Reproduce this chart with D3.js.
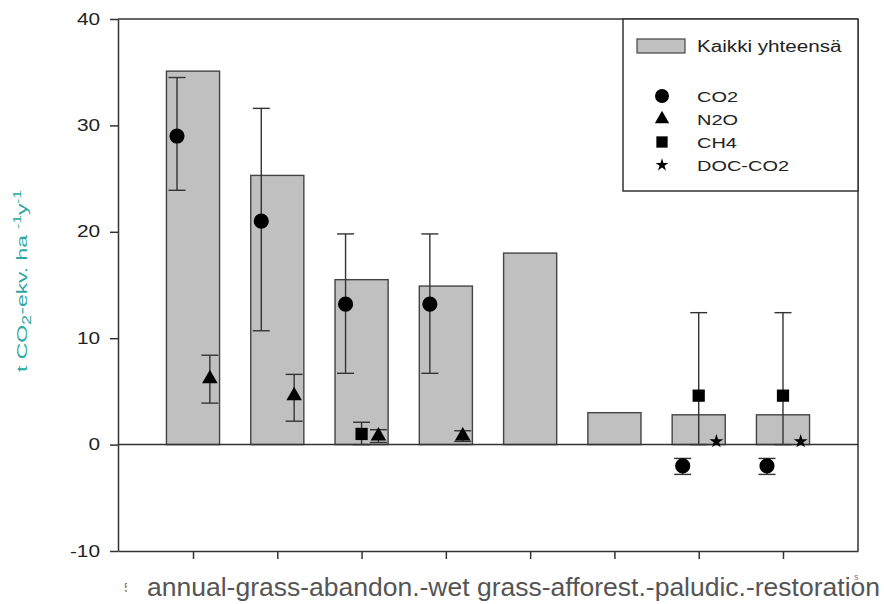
<!DOCTYPE html>
<html>
<head>
<meta charset="utf-8">
<script src="https://cdn.jsdelivr.net/npm/d3@7"></script>
<style>
  body { margin: 0; background: #fff; }
  svg { display: block; }
  text { font-family: "Liberation Sans", Arial, sans-serif; }
</style>
</head>
<body>
<svg id="chart"></svg>
<script>
// values
const categories = ['I', 'II', 'III', 'IV', 'V', 'VI', 'VII', 'VIII'];
const totals  = [35.1, 25.3, 15.5, 14.9, 18.0, 3.0, 2.8, 2.8];
const co2     = [29.0, 21.0, 13.2, 13.2, null, null, -2.0, -2.0];
const co2Low  = [23.9, 10.7, 6.7, 6.7, null, null, -2.8, -2.8];
const co2High = [34.5, 31.6, 19.8, 19.8, null, null, -1.3, -1.3];
const n2o     = [6.2, 4.6, 0.8, 0.8, null, null, null, null];
const n2oLow  = [3.9, 2.2, 0.2, 0.3, null, null, null, null];
const n2oHigh = [8.4, 6.6, 1.4, 1.3, null, null, null, null];
const ch4     = [null, null, 1.0, null, null, null, 4.6, 4.6];
const ch4Low  = [null, null, 0.0, null, null, null, 0.0, 0.0];
const ch4High = [null, null, 2.1, null, null, null, 12.4, 12.4];
const docCo2  = [null, null, null, null, null, null, 0.3, 0.3];
const yTicks = [-10, 0, 10, 20, 30, 40];
const totalLabel = 'Kaikki yhteensä';
const xTitle = 'annual-grass-abandon.-wet grass-afforest.-paludic.-restoration';

function makeChart() {
    let w = 884, h = 604;
    let svg = d3.select('#chart').attr('width', w).attr('height', h);

    let x = d3.scaleLinear().domain([-0.89, categories.length - 1 + 0.89]).range([118, 858]);
    let y = d3.scaleLinear().domain([-10, 40]).range([551, 19]);
    let ink = '#333';

    // widen glyphs a bit, the source picture is stretched sideways
    function stretch(sel, k) {
        sel.each(function() {
            let len = this.getComputedTextLength();
            d3.select(this).attr('textLength', len * k).attr('lengthAdjust', 'spacingAndGlyphs');
        });
    }

    // bars
    let half = 0.315;
    svg.selectAll('rect.bar')
        .data(totals)
        .enter()
        .append('rect')
        .attr('class', 'bar')
        .attr('x', (d, i) => x(i - half))
        .attr('y', (d) => y(d))
        .attr('width', (d, i) => x(i + half) - x(i - half))
        .attr('height', (d) => y(0) - y(d))
        .attr('fill', '#c0c0c0')
        .attr('stroke', '#444')
        .attr('stroke-width', 1.4);

    // axes
    let yAxis = svg.append('g')
        .attr('transform', `translate(${x.range()[0]},0)`)
        .call(d3.axisLeft(y).tickValues(yTicks).tickSize(8).tickSizeOuter(0).tickPadding(10)
            .tickFormat((d) => String(d)));
    let xAxis = svg.append('g')
        .attr('transform', `translate(0,${y(-10)})`)
        .call(d3.axisBottom(x).tickValues(d3.range(categories.length)).tickSize(8).tickSizeOuter(0).tickFormat(''));
    [yAxis, xAxis].forEach((g) => {
        g.selectAll('path, line').attr('stroke', ink).attr('stroke-width', 1.5);
    });
    yAxis.selectAll('text')
        .attr('font-size', 16)
        .attr('fill', '#222')
        .call(stretch, 1.3);

    // frame and zero line
    svg.append('line')
        .attr('x1', x.range()[0]).attr('x2', x.range()[1])
        .attr('y1', y(40)).attr('y2', y(40))
        .attr('stroke', ink).attr('stroke-width', 1.5);
    svg.append('line')
        .attr('x1', x.range()[1]).attr('x2', x.range()[1])
        .attr('y1', y(40)).attr('y2', y(-10))
        .attr('stroke', ink).attr('stroke-width', 1.5);
    svg.append('line')
        .attr('x1', x.range()[0]).attr('x2', x.range()[1])
        .attr('y1', y(0)).attr('y2', y(0))
        .attr('stroke', ink).attr('stroke-width', 1.5);

    // gas series
    let series = [
        { name: 'CO2', values: co2, low: co2Low, high: co2High, shape: d3.symbolCircle, size: 180, off: -0.19 },
        { name: 'N2O', values: n2o, low: n2oLow, high: n2oHigh, shape: d3.symbolTriangle, size: 105, off: 0.2 },
        { name: 'CH4', values: ch4, low: ch4Low, high: ch4High, shape: d3.symbolSquare, size: 150, off: 0 },
        { name: 'DOC-CO2', values: docCo2, low: null, high: null, shape: d3.symbolStar, size: 60, off: 0.21 }
    ];

    series.forEach((s) => {
        let pts = s.values.map((v, i) => ({ i: i, v: v, lo: s.low ? s.low[i] : null, hi: s.high ? s.high[i] : null }))
            .filter((d) => d.v !== null);
        let g = svg.append('g');
        let cap = 8.5;
        pts.filter((d) => d.lo !== null).forEach((d) => {
            let cx = x(d.i + s.off);
            g.append('line')
                .attr('x1', cx).attr('x2', cx).attr('y1', y(d.lo)).attr('y2', y(d.hi))
                .attr('stroke', ink).attr('stroke-width', 1.4);
            [d.lo, d.hi].forEach((e) => {
                g.append('line')
                    .attr('x1', cx - cap).attr('x2', cx + cap).attr('y1', y(e)).attr('y2', y(e))
                    .attr('stroke', ink).attr('stroke-width', 1.4);
            });
        });
        g.selectAll('path.mark')
            .data(pts)
            .enter()
            .append('path')
            .attr('class', 'mark')
            .attr('d', d3.symbol().type(s.shape).size(s.size))
            .attr('transform', (d) => `translate(${x(d.i + s.off)},${y(d.v)})`)
            .attr('fill', '#000');
    });

    // legend
    let lg = svg.append('g');
    lg.append('rect')
        .attr('x', 623).attr('y', 19).attr('width', 235).attr('height', 172)
        .attr('fill', '#fff').attr('stroke', ink).attr('stroke-width', 1.5);
    lg.append('rect')
        .attr('x', 637).attr('y', 39).attr('width', 48).attr('height', 14)
        .attr('fill', '#c0c0c0').attr('stroke', '#444').attr('stroke-width', 1.2);
    lg.append('text')
        .attr('x', 697).attr('y', 52)
        .attr('font-size', 16).attr('fill', '#222')
        .text(totalLabel)
        .call(stretch, 1.29);
    series.forEach((s, k) => {
        let yy = 96 + k * 23;
        lg.append('path')
            .attr('d', d3.symbol().type(s.shape).size(s.size * 0.85))
            .attr('transform', `translate(662,${yy})`)
            .attr('fill', '#000');
        lg.append('text')
            .attr('x', 697).attr('y', yy + 6)
            .attr('font-size', 15).attr('fill', '#222')
            .text(s.name)
            .call(stretch, 1.33);
    });

    // y title
    let yt = svg.append('text')
        .attr('fill', '#2aa7a1')
        .attr('font-size', 15)
        .attr('text-anchor', 'middle');
    yt.append('tspan').text('t CO');
    yt.append('tspan').attr('font-size', 12).attr('dy', 4).text('2');
    yt.append('tspan').attr('dy', -4).text('-ekv. ha ');
    yt.append('tspan').attr('font-size', 10).attr('dy', -6).text('-1');
    yt.append('tspan').attr('dy', 6).text('y');
    yt.append('tspan').attr('font-size', 10).attr('dy', -6).text('-1');
    let ytLen = yt.node().getComputedTextLength();
    yt.attr('transform', `translate(27,281) rotate(-90) scale(${182 / ytLen},1)`);

    // label strip at the bottom, hiding the old tick labels
    svg.append('text')
        .attr('x', 124).attr('y', 592)
        .attr('font-size', 13).attr('fill', '#777')
        .text('5');
    svg.append('rect')
        .attr('x', 127).attr('y', 562).attr('width', w - 127).attr('height', h - 562)
        .attr('fill', '#fff');
    svg.append('text')
        .attr('x', 147).attr('y', 596)
        .attr('font-size', 25).attr('fill', '#555')
        .attr('textLength', 733).attr('lengthAdjust', 'spacingAndGlyphs')
        .text(xTitle);
    svg.append('text')
        .attr('x', 854).attr('y', 580)
        .attr('font-size', 9).attr('fill', '#777')
        .text('s');
}

window.onload = function() {
    makeChart();
};
</script>
</body>
</html>
